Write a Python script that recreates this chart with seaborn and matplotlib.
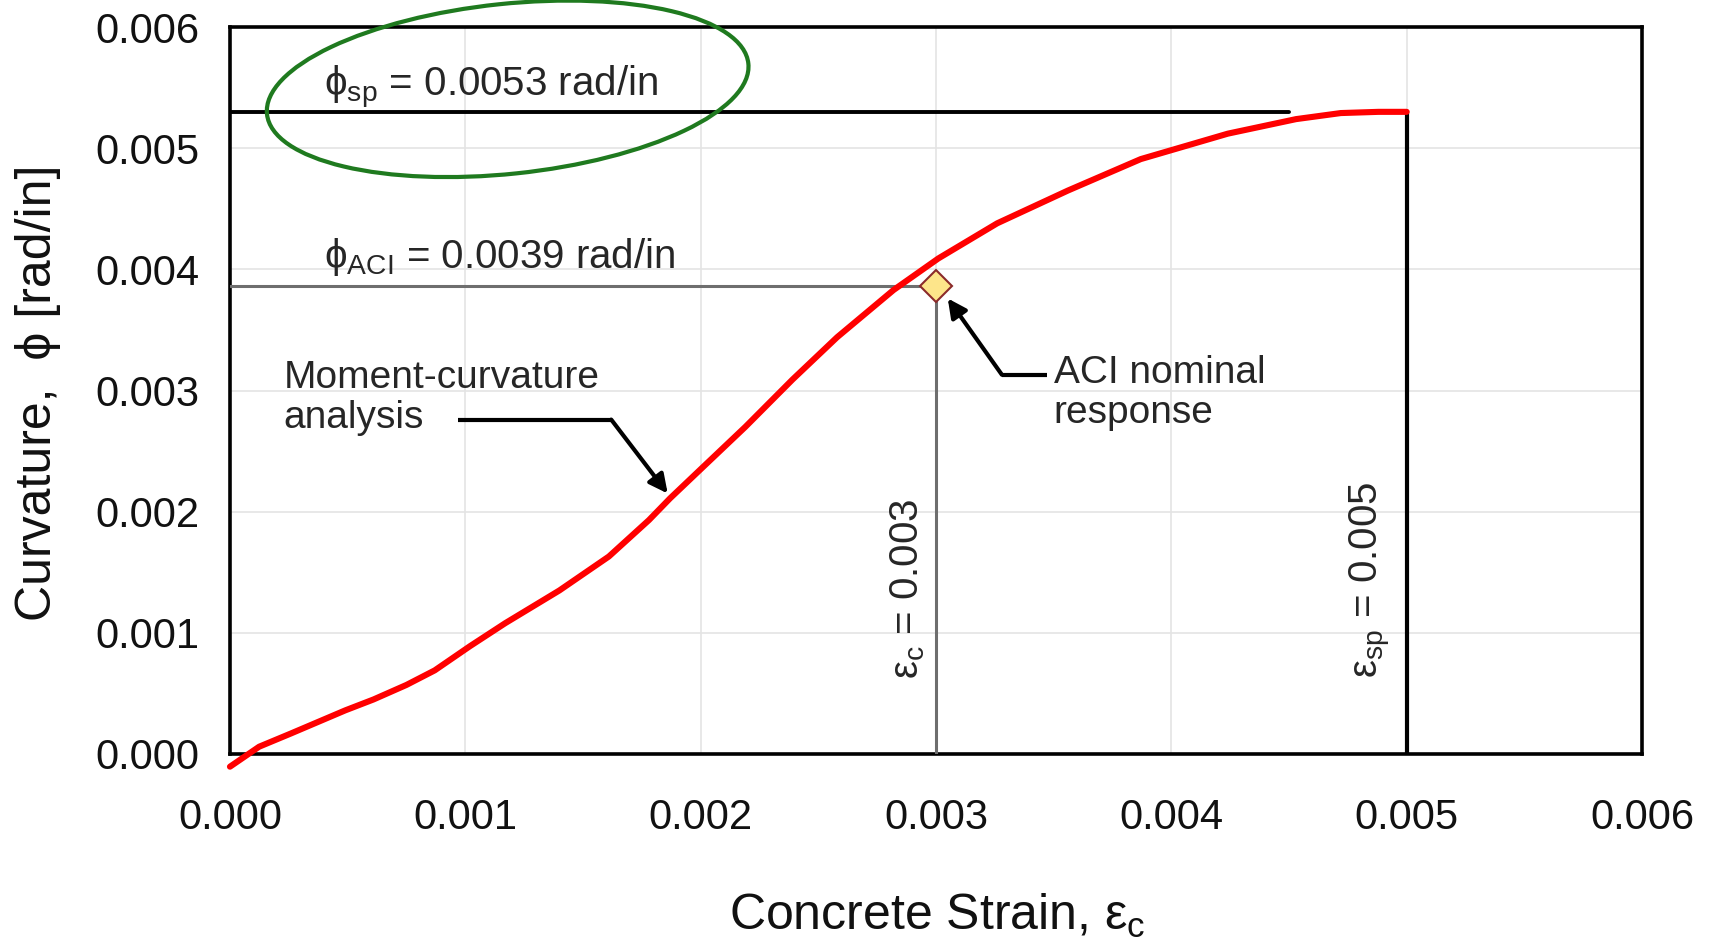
# Moment-curvature response: curvature vs concrete strain

import matplotlib
matplotlib.use('Agg')
import matplotlib.pyplot as plt
from matplotlib.patches import Ellipse
from matplotlib.transforms import ScaledTranslation
from matplotlib.ticker import MultipleLocator, FormatStrFormatter
import seaborn as sns
import pandas as pd

# Data
strain = [0.0, 0.000124, 0.00026, 0.00049, 0.00061, 0.00075, 0.00087, 0.00102,
          0.00117, 0.0014, 0.00161, 0.00178, 0.00187, 0.002, 0.00219, 0.00239,
          0.00258, 0.00282, 0.00301, 0.00326, 0.00356, 0.00387, 0.00424, 0.00453,
          0.00472, 0.00488, 0.005]
curvature = [-0.000105, 0.00006, 0.00017, 0.00036, 0.00045, 0.00057, 0.00069,
             0.00089, 0.00108, 0.00135, 0.00163, 0.00193, 0.00211, 0.00235,
             0.0027, 0.00309, 0.00344, 0.00383, 0.00409, 0.00438, 0.00465,
             0.00491, 0.00512, 0.00524, 0.00529, 0.0053, 0.0053]

eps_c = 0.003        # ACI concrete strain
phi_aci = 0.00386    # ACI nominal curvature
eps_sp = 0.005       # spalling strain
phi_sp = 0.0053      # spalling curvature
phi_sp_line_end = 0.0045

df = pd.DataFrame({'strain': strain, 'curvature': curvature})

sns.set_style('white')
plt.rcParams['font.family'] = ['Liberation Sans', 'DejaVu Sans']
plt.rcParams['mathtext.fontset'] = 'custom'
plt.rcParams['mathtext.rm'] = 'Liberation Sans'
plt.rcParams['mathtext.it'] = 'Liberation Sans'
plt.rcParams['mathtext.default'] = 'regular'

fig = plt.figure(figsize=(17.11, 9.42), dpi=100)
ax = fig.add_axes([0.1344, 0.1996, 0.8253, 0.7717])

# ACI reference lines (gray)
ax.plot([0, eps_c], [phi_aci, phi_aci], color='#6e6e6e', lw=2.2, zorder=3)
ax.plot([eps_c, eps_c], [0, phi_aci], color='#6e6e6e', lw=2.2, zorder=3)

# Spalling reference lines (black)
ax.plot([0, phi_sp_line_end], [phi_sp, phi_sp], color='black', lw=2.8, zorder=3)
ax.plot([eps_sp, eps_sp], [0, phi_sp], color='black', lw=3, zorder=3)

# Moment-curvature curve
sns.lineplot(data=df, x='strain', y='curvature', color='red', lw=4.4, ax=ax,
             zorder=4, clip_on=False, solid_joinstyle='round',
             solid_capstyle='round')

# ACI nominal point
ax.plot([eps_c], [phi_aci], marker='D', ms=16, mfc='#fde58a', mec='#8b2a2a',
        mew=1.5, zorder=6)

ax.set_xlim(0, 0.006)
ax.set_ylim(0, 0.006)
ax.xaxis.set_major_locator(MultipleLocator(0.001))
ax.yaxis.set_major_locator(MultipleLocator(0.001))
ax.xaxis.set_minor_locator(MultipleLocator(0.0002))
ax.yaxis.set_minor_locator(MultipleLocator(0.0002))
ax.xaxis.set_major_formatter(FormatStrFormatter('%.3f'))
ax.yaxis.set_major_formatter(FormatStrFormatter('%.3f'))
ax.tick_params(axis='both', which='major', direction='in', length=10, width=1,
               color='#555555', labelsize=30, labelcolor='#111111')
ax.tick_params(axis='x', which='major', pad=32)
ax.tick_params(axis='y', which='major', pad=22)
ax.tick_params(axis='both', which='minor', direction='in', length=6, width=1,
               color='#888888')
ax.grid(True, which='major', color='#e4e4e4', lw=1.2)
for s in ax.spines.values():
    s.set_linewidth(2.6)
    s.set_color('black')

ax.set_xlabel('Concrete Strain, ε$_{\\mathrm{c}}$', fontsize=36, color='#111111')
ax.set_ylabel('Curvature,  ϕ [rad/in]', fontsize=36, color='#111111')
ax.xaxis.set_label_coords(0.501, -0.223)
ax.xaxis.label.set_va('center')
ax.yaxis.set_label_coords(-0.136, 0.497)
ax.yaxis.label.set_va('center')

# Annotations
ax.text(0.0004, 0.00543, 'ϕ$_{\\mathrm{sp}}$ = 0.0053 rad/in', fontsize=29,
        va='baseline', ha='left', zorder=7)
ax.text(0.0004, 0.00401, 'ϕ$_{\\mathrm{ACI}}$ = 0.0039 rad/in', fontsize=29,
        va='baseline', ha='left', zorder=7)
ax.text(0.000227, 0.00294, 'Moment-curvature\nanalysis', fontsize=28,
        va='center', ha='left', linespacing=1.15)
ax.text(0.0035, 0.00298, 'ACI nominal\nresponse', fontsize=28,
        va='center', ha='left', linespacing=1.15)
ax.text(0.00288, 0.00136, 'ε$_{\\mathrm{c}}$ = 0.003', fontsize=29,
        rotation=90, va='center', ha='center')
ax.text(0.00484, 0.00144, 'ε$_{\\mathrm{sp}}$ = 0.005', fontsize=29,
        rotation=90, va='center', ha='center')

# Leader arrows
ax.plot([0.00097, 0.00162], [0.00276, 0.00276], color='black', lw=3,
        solid_capstyle='butt')
ax.annotate('', xy=(0.00186, 0.00215), xytext=(0.00162, 0.00276),
            arrowprops=dict(arrowstyle='-|>', color='black', lw=3,
                            mutation_scale=28, shrinkA=0, shrinkB=0))
ax.plot([0.00347, 0.00328], [0.00313, 0.00313], color='black', lw=3,
        solid_capstyle='butt')
ax.annotate('', xy=(0.00305, 0.00376), xytext=(0.00328, 0.00313),
            arrowprops=dict(arrowstyle='-|>', color='black', lw=3,
                            mutation_scale=28, shrinkA=0, shrinkB=0))

# Green highlight ellipse around phi_sp label
ell = Ellipse((0, 0), width=4.84, height=1.70, angle=6, fill=False,
              edgecolor='#1f7a1f', lw=3,
              transform=fig.dpi_scale_trans + ScaledTranslation(0.00118, 0.00549, ax.transData),
              clip_on=False, zorder=8)
ax.add_patch(ell)

fig.savefig('out.png', dpi=100)
